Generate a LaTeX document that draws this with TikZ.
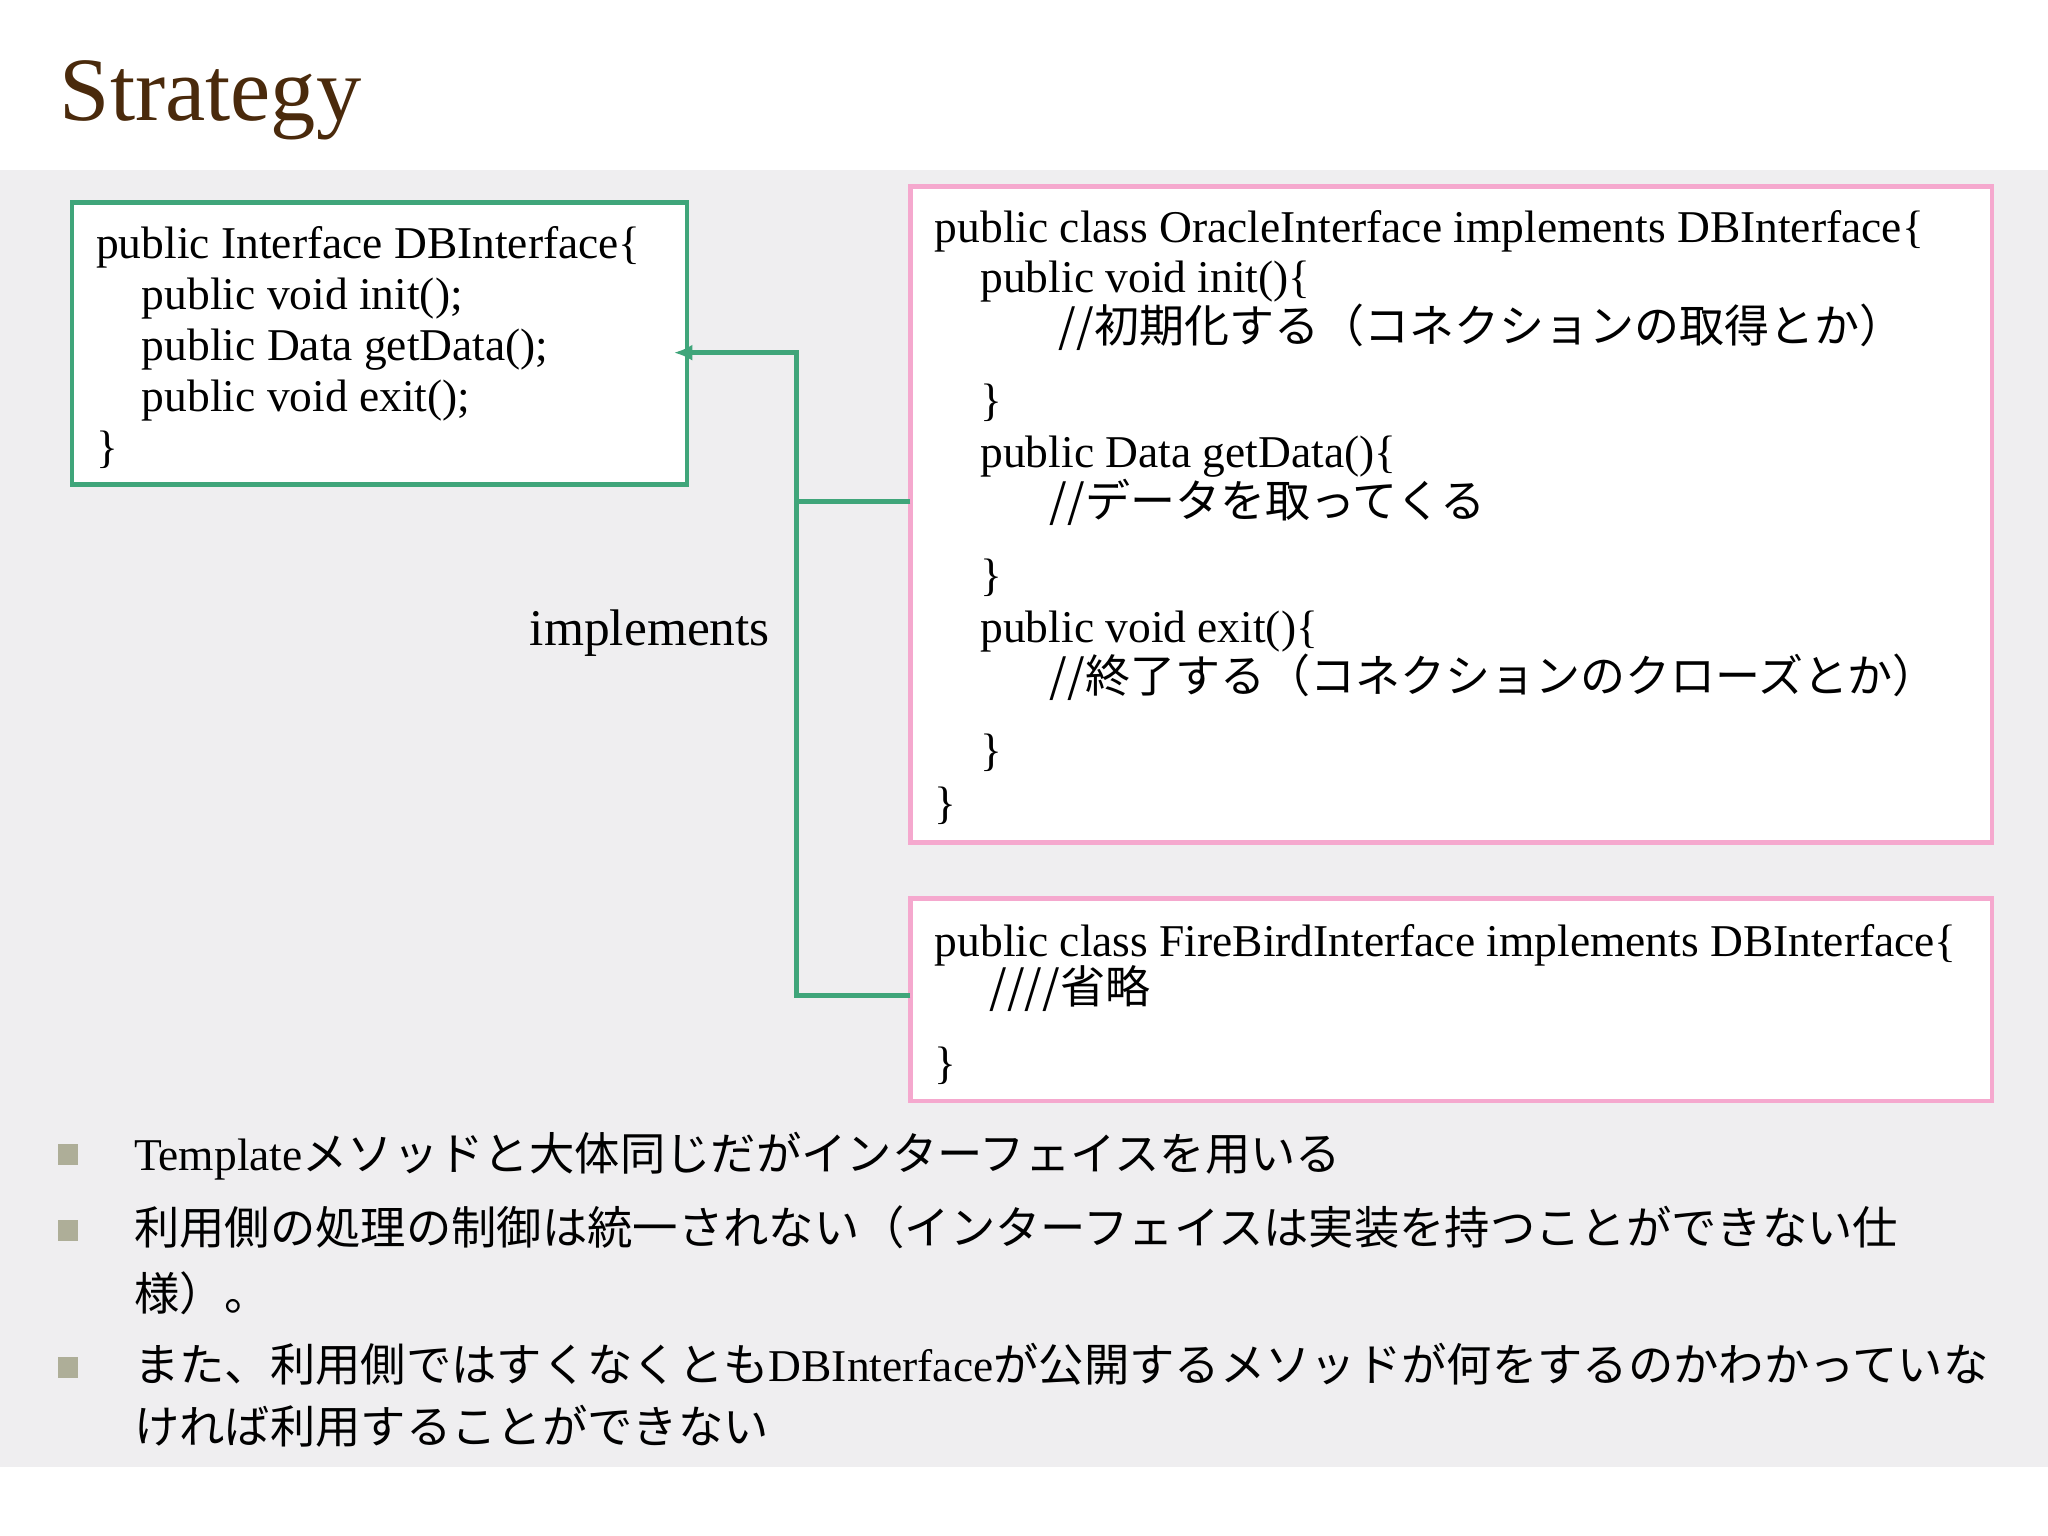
\documentclass[tikz,border=0pt]{standalone}
\usetikzlibrary{arrows.meta}
\usepackage{fontspec}
\setmainfont{Liberation Serif}
\newfontfamily\jp{Noto Sans CJK JP}
\definecolor{bgg}{HTML}{EFEEF0}
\definecolor{grn}{HTML}{3FA57A}
\definecolor{pnk}{HTML}{F5A8CE}
\definecolor{ttl}{HTML}{4A2A0C}
\definecolor{bul}{HTML}{AEAE98}
\tikzset{
  t/.style={anchor=base west,inner sep=0pt,font=\fontsize{9.9}{12}\selectfont},
  j/.style={anchor=base west,inner sep=0pt,font=\fontsize{9.8}{11}\jp},
  gbox/.style={draw=grn,line width=1pt,fill=white},
  pbox/.style={draw=pnk,line width=1pt,fill=white},
  conn/.style={draw=grn,line width=1pt},
  bsq/.style={fill=bul,minimum size=4.5pt,inner sep=0pt},
  bt/.style={anchor=base west,inner sep=0pt,font=\fontsize{9.9}{12}\selectfont}
}
\newcommand{\J}[1]{{\fontsize{9.87}{12}\jp #1}}
\begin{document}
\begin{tikzpicture}[x=0.01cm,y=-0.01cm]
\useasboundingbox (0,0) rectangle (1568,1176);
\fill[bgg] (0,130) rectangle (1568,1123);
\node[anchor=base west,inner sep=0pt,text=ttl,font=\fontsize{19.7}{24}\selectfont] (title) at (45,92) {Strategy};
% boxes
\draw[gbox] (55,155) rectangle (526,371);
\coordinate (gE) at (516,270);
\draw[pbox] (697,143) rectangle (1525,645);
\coordinate (p1W) at (697,384);
\draw[pbox] (697,688) rectangle (1525,843);
\coordinate (p2W) at (697,762);
\coordinate (jn) at (610,270);
\coordinate (jm) at (610,384);
\coordinate (jb) at (610,762);
\draw[conn,-{Latex[length=4pt,width=3.5pt]}] (p2W) -- (jb) -- (jn) -- (gE);
\draw[conn] (p1W) -- (jm);
\node[anchor=base west,inner sep=0pt,font=\fontsize{11.2}{13}\selectfont] (impl) at (405,494) {implements};
% green box text
\node[t] (g1) at (73,198) {public Interface DBInterface\{};
\node[t] (g2) at (108,237) {public void init();};
\node[t] (g3) at (108,276) {public Data getData();};
\node[t] (g4) at (108,315) {public void exit();};
\node[t] (g5) at (73,354) {\}};
% pink box 1
\node[t] (o1) at (715,186) {public class OracleInterface implements DBInterface\{};
\node[t] (o2) at (750,224) {public void init()\{};
\node[j] (o3) at (810,262) {//初期化する（コネクションの取得とか）};
\node[t] (o4) at (750,318) {\}};
\node[t] (o5) at (750,358) {public Data getData()\{};
\node[j] (o6) at (803,396) {//データを取ってくる};
\node[t] (o7) at (750,452) {\}};
\node[t] (o8) at (750,492) {public void exit()\{};
\node[j] (o9) at (803,530) {//終了する（コネクションのクローズとか）};
\node[t] (o10) at (750,586) {\}};
\node[t] (o11) at (715,627) {\}};
% pink box 2
\node[t] (f1) at (715,732) {public class FireBirdInterface implements DBInterface\{};
\node[j] (f2) at (757,768) {////省略};
\node[t] (f3) at (715,826) {\}};
% bullets
\node[bsq] (b1) at (52,884) {};
\node[bsq] (b2) at (52,942) {};
\node[bsq] (b3) at (52,1047) {};
\node[bt] (l1) at (102,896) {Template\J{メソッドと大体同じだがインターフェイスを用いる}};
\node[bt] (l2) at (102,953) {\J{利用側の処理の制御は統一されない（インターフェイスは実装を持つことができない仕}};
\node[bt] (l3) at (102,1003) {\J{様）。}};
\node[bt] (l4) at (102,1058) {\J{また、利用側ではすくなくとも}DBInterface\J{が公開するメソッドが何をするのかわかっていな}};
\node[bt] (l5) at (102,1105) {\J{ければ利用することができない}};
\end{tikzpicture}
\end{document}
